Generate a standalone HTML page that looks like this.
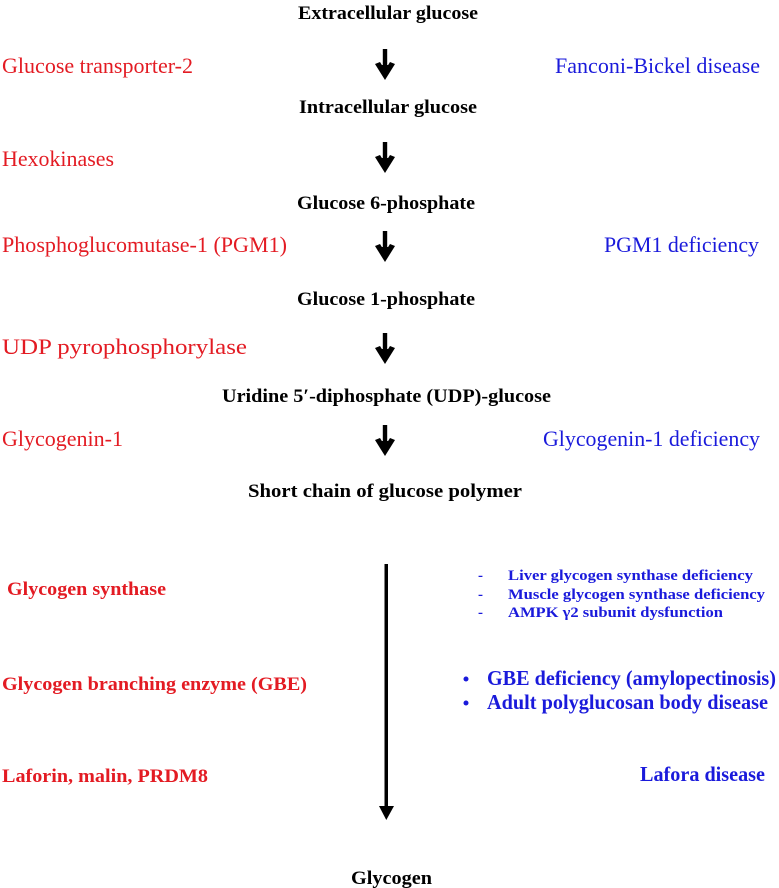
<!DOCTYPE html>
<html><head><meta charset="utf-8"><style>
html,body{margin:0;padding:0;background:#fff;}
svg{display:block;}
text{font-family:"Liberation Serif","Times New Roman",serif;}
.b{font-weight:bold;fill:#000;font-size:19px;}
.r{fill:#e31b23;font-size:22px;}
.u{fill:#1a1adb;font-size:22px;}
.rb{fill:#e31b23;font-size:19px;font-weight:bold;}
.ub{fill:#1a1adb;font-weight:bold;}
</style></head><body>
<svg width="779" height="888" viewBox="0 0 779 888" xmlns="http://www.w3.org/2000/svg">
<defs>
<g id="arr"><rect x="-2.2" y="0" width="4.4" height="22" fill="#000"/><polygon points="-10,15 0,31 10,15 5,13 0,21 -5,13" fill="#000"/><polygon points="-5,16 0,27 5,16" fill="#000"/></g>
</defs>
<text class="b" x="298" y="19" textLength="180" lengthAdjust="spacingAndGlyphs">Extracellular glucose</text>
<text class="r" x="2" y="73" textLength="191" lengthAdjust="spacingAndGlyphs">Glucose transporter-2</text>
<text class="u" x="555" y="73" textLength="205" lengthAdjust="spacingAndGlyphs">Fanconi-Bickel disease</text>
<use href="#arr" x="385" y="49"/>
<text class="b" x="299" y="113" textLength="178" lengthAdjust="spacingAndGlyphs">Intracellular glucose</text>
<text class="r" x="2" y="166" textLength="112" lengthAdjust="spacingAndGlyphs">Hexokinases</text>
<use href="#arr" x="385" y="142"/>
<text class="b" x="297" y="209" textLength="178" lengthAdjust="spacingAndGlyphs">Glucose 6-phosphate</text>
<text class="r" x="2" y="252" textLength="285" lengthAdjust="spacingAndGlyphs">Phosphoglucomutase-1 (PGM1)</text>
<text class="u" x="604" y="252" textLength="155" lengthAdjust="spacingAndGlyphs">PGM1 deficiency</text>
<use href="#arr" x="385" y="231"/>
<text class="b" x="297" y="305" textLength="178" lengthAdjust="spacingAndGlyphs">Glucose 1-phosphate</text>
<text class="r" x="2" y="354" textLength="245" lengthAdjust="spacingAndGlyphs">UDP pyrophosphorylase</text>
<use href="#arr" x="385" y="333"/>
<text class="b" x="222" y="402" textLength="329" lengthAdjust="spacingAndGlyphs">Uridine 5′-diphosphate (UDP)-glucose</text>
<text class="r" x="2" y="446" textLength="121" lengthAdjust="spacingAndGlyphs">Glycogenin-1</text>
<text class="u" x="543" y="446" textLength="217" lengthAdjust="spacingAndGlyphs">Glycogenin-1 deficiency</text>
<use href="#arr" x="385" y="425"/>
<text class="b" x="248" y="497" textLength="274" lengthAdjust="spacingAndGlyphs">Short chain of glucose polymer</text>

<rect x="384.5" y="564" width="3.5" height="246" fill="#000"/>
<polygon points="379,806 394,806 386.3,820" fill="#000"/>

<text class="rb" x="7" y="595" textLength="159" lengthAdjust="spacingAndGlyphs">Glycogen synthase</text>
<g class="ub" style="font-size:15px">
<text x="478" y="580">-</text><text x="508" y="580" textLength="245" lengthAdjust="spacingAndGlyphs">Liver glycogen synthase deficiency</text>
<text x="478" y="599">-</text><text x="508" y="599" textLength="257" lengthAdjust="spacingAndGlyphs">Muscle glycogen synthase deficiency</text>
<text x="478" y="617">-</text><text x="508" y="617" textLength="215" lengthAdjust="spacingAndGlyphs">AMPK γ2 subunit dysfunction</text>
</g>
<text class="rb" x="2" y="690" textLength="305" lengthAdjust="spacingAndGlyphs">Glycogen branching enzyme (GBE)</text>
<g class="ub" style="font-size:21px">
<circle cx="466" cy="679" r="2.5" fill="#1a1adb"/><text x="487" y="685" textLength="289" lengthAdjust="spacingAndGlyphs">GBE deficiency (amylopectinosis)</text>
<circle cx="466" cy="703" r="2.5" fill="#1a1adb"/><text x="487" y="709" textLength="281" lengthAdjust="spacingAndGlyphs">Adult polyglucosan body disease</text>
<text x="640" y="781" textLength="125" lengthAdjust="spacingAndGlyphs">Lafora disease</text>
</g>
<text class="rb" x="2" y="782" textLength="206" lengthAdjust="spacingAndGlyphs">Laforin, malin, PRDM8</text>
<text class="b" x="351" y="884" textLength="81" lengthAdjust="spacingAndGlyphs">Glycogen</text>
</svg>
</body></html>
